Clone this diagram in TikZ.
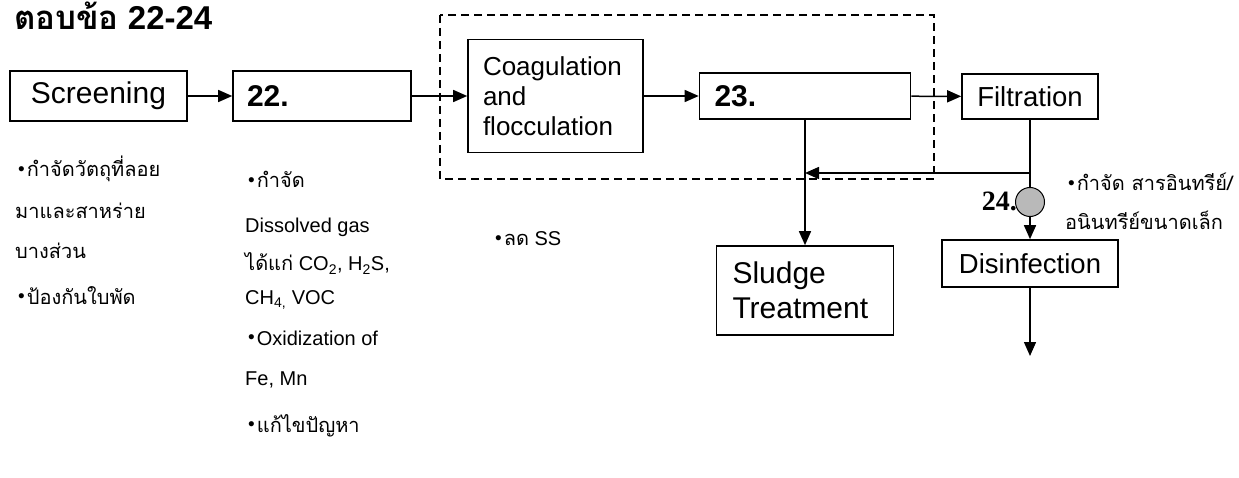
\documentclass[tikz,border=0pt]{standalone}
\usepackage{fontspec}
\setmainfont{Liberation Sans}
\newfontfamily\thaifont[Script=Thai]{Loma}
\newfontfamily\timesfont{Liberation Serif}
\usetikzlibrary{arrows.meta}
\newcommand{\bul}{\raisebox{1.5pt}{\fontsize{19}{19}\selectfont •}\hspace{2pt}}
\newcommand{\bigfont}{\fontsize{30}{35}\selectfont}

\begin{document}
\begin{tikzpicture}[x=1pt, y=-1pt,
	box/.style={draw, line width=1.6pt, inner sep=0pt},
	flow/.style={line width=1.5pt, -{Triangle[length=14pt, width=12pt]}},
	wire/.style={line width=1.5pt},
	lbl/.style={anchor=base west, inner sep=0pt, font=\fontsize{20}{24}\selectfont}]
		\useasboundingbox (0,0) rectangle (1239,478);

		\node[anchor=base west, inner sep=0pt, font=\fontsize{33}{38}\selectfont\bfseries] (title) at (14,30) {{\thaifont ตอบข้อ} 22-24};

		% main line
		\node[box, minimum width=177pt, minimum height=50pt, font=\bigfont] (screen) at (98.5,96) {Screening};
		\node[box, minimum height=50pt, text width=150pt, inner xsep=14pt, align=left, font=\bigfont\bfseries] (b22) at (322,96) {22.};
		\node[box, minimum height=113pt, text width=145pt, inner xsep=15pt, align=left, font=\fontsize{26}{30}\selectfont] (coag) at (555.5,96) {Coagulation\\and\\flocculation};
		\node[box, minimum height=46pt, text width=181pt, inner xsep=15pt, align=left, font=\bigfont\bfseries] (b23) at (805,96) {23.};
		\node[box, minimum width=136pt, minimum height=45pt, font=\fontsize{27.5}{32}\selectfont] (filt) at (1030,96.5) {Filtration};
		\node[box, minimum height=89pt, text width=145pt, inner xsep=16pt, align=left, font=\bigfont] (sludge) at (805,290.5) {Sludge\\Treatment};
		\node[box, minimum width=176pt, minimum height=47pt, font=\fontsize{27.5}{32}\selectfont] (disinf) at (1030,263.5) {Disinfection};
		\node[draw, circle, line width=1pt, fill=gray!55, minimum size=29pt, inner sep=0pt] (chl) at (1030,202) {};
		\node[anchor=base east, inner sep=0pt, font=\timesfont\bfseries\fontsize{28}{32}\selectfont] (n24) at (1017,211) {24.};

		\draw[line width=1.8pt, dash pattern=on 8pt off 5pt] (440,15) rectangle (934,179);

		\coordinate (junc) at (1030,173);
		\coordinate (outlet) at (1030,356);
		\draw[flow] (screen) -- (b22);
		\draw[flow] (b22) -- (coag);
		\draw[flow] (coag) -- (b23);
		\draw[flow] (b23) -- (filt);
		\draw[wire] (filt.south) -- (junc) -- (chl.north);
		\draw[flow] (junc) -- (b23.south |- junc);
		\draw[flow] (b23.south) -- (sludge.north);
		\draw[flow] (chl.south) -- (disinf.north);
		\draw[flow] (disinf.south) -- (outlet);

		% notes
		\node[lbl] (sc1) at (18,177) {\bul\thaifont กำจัดวัตถุที่ลอย};
		\node[lbl] (sc2) at (15,219) {\thaifont มาและสาหร่าย};
		\node[lbl] (sc3) at (15,259) {\thaifont บางส่วน};
		\node[lbl] (sc4) at (18,304) {\bul\thaifont ป้องกันใบพัด};

		\node[lbl] (ae1) at (248,188) {\bul\thaifont กำจัด};
		\node[lbl] (ae2) at (245,233) {Dissolved gas};
		\node[lbl] (ae3) at (245,271) {{\thaifont ได้แก่} CO\textsubscript{2}, H\textsubscript{2}S,};
		\node[lbl] (ae4) at (245,304) {CH\textsubscript{4,} VOC};
		\node[lbl] (ae5) at (248,345) {\bul Oxidization of};
		\node[lbl] (ae6) at (245,385) {Fe, Mn};
		\node[lbl] (ae7) at (248,432) {\bul\thaifont แก้ไขปัญหา};

		\node[lbl] (cf1) at (495,246) {\bul{\thaifont ลด} SS};

		\node[lbl] (fl1) at (1068,191) {\bul\thaifont กำจัด สารอินทรีย์/};
		\node[lbl] (fl2) at (1065,230) {\thaifont อนินทรีย์ขนาดเล็ก};
\end{tikzpicture}
\end{document}
